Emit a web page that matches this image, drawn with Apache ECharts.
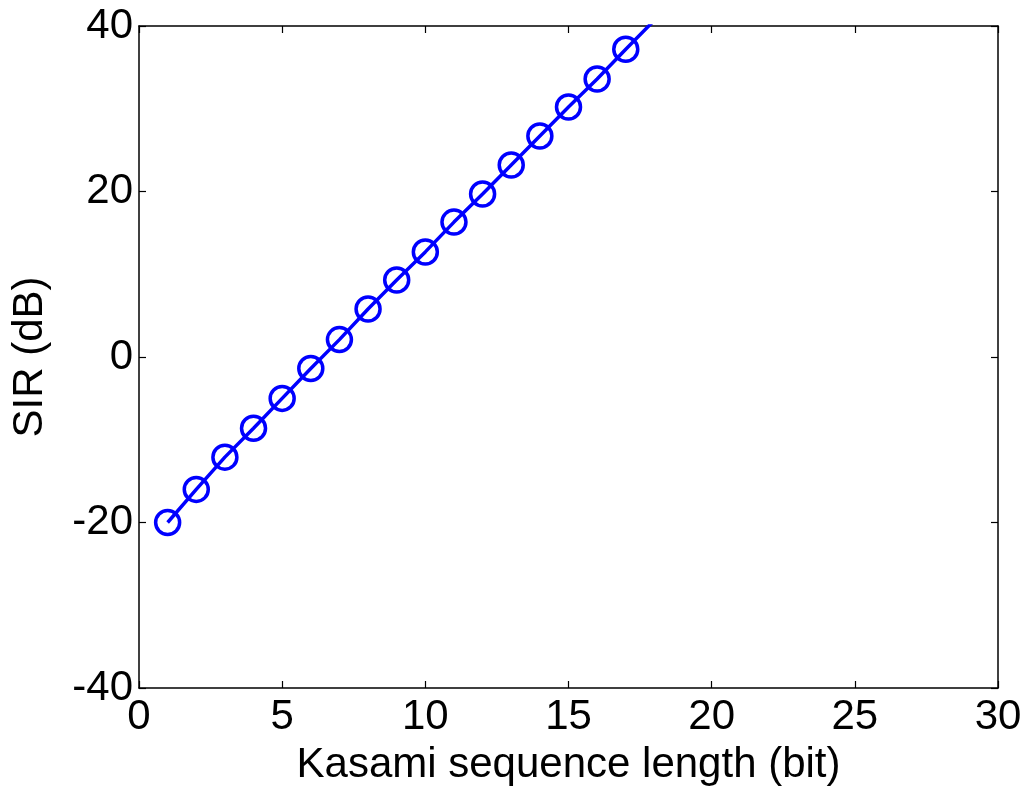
<!DOCTYPE html>
<html><head><meta charset="utf-8">
<script src="https://cdn.jsdelivr.net/npm/echarts@6/dist/echarts.min.js"></script>
<style>html,body{margin:0;padding:0;background:#fff}#c{width:1029px;height:794px}</style>
</head><body><div id="c"></div>
<script>
const xValues = [1,2,3,4,5,6,7,8,9,10,11,12,13,14,15,16,17,18];
const sirValues = [-20.0,-16.0,-12.1,-8.6,-5.0,-1.4,2.1,5.8,9.3,12.7,16.3,19.7,23.2,26.7,30.2,33.6,37.2,40.7];
const xTicks = [0,5,10,15,20,25,30];
const yTicks = [-40,-20,0,20,40];

const font = 'Liberation Sans, Arial, sans-serif';
const data = xValues.map((x,i)=> i===xValues.length-1 ? {value:[x,sirValues[i]], symbol:'none'} : [x,sirValues[i]]);

const chart = echarts.init(document.getElementById('c'));
const axBase = {
  axisLine:{show:true,onZero:false,lineStyle:{color:'#000',width:1.5}},
  axisTick:{show:true,inside:true,length:7,lineStyle:{color:'#000',width:1.2}},
  splitLine:{show:false}
};
chart.setOption({
  animation:false,
  backgroundColor:'#fff',
  grid:{left:139,right:31,top:26,bottom:106,containLabel:false,outerBoundsMode:'none'},
  xAxis:[
    Object.assign({type:'value',position:'bottom',min:0,max:30,interval:5,
      name:'Kasami sequence length (bit)',nameLocation:'middle',nameGap:56,nameMoveOverlap:false,
      nameTextStyle:{fontFamily:font,fontSize:42,color:'#000'},
      axisLabel:{fontFamily:font,fontSize:42,color:'#000',margin:8,
        formatter:v=>xTicks.includes(v)?String(v):''}},axBase),
    Object.assign({type:'value',position:'top',min:0,max:30,interval:5,axisLabel:{show:false}},axBase)
  ],
  yAxis:[
    Object.assign({type:'value',position:'left',min:-40,max:40,interval:20,
      name:'SIR (dB)',nameLocation:'middle',nameGap:88,nameMoveOverlap:false,
      nameTextStyle:{fontFamily:font,fontSize:42,color:'#000'},
      axisLabel:{fontFamily:font,fontSize:42,color:'#000',margin:6,
        formatter:v=>yTicks.includes(v)?String(v):''}},axBase),
    Object.assign({type:'value',position:'right',min:-40,max:40,interval:20,axisLabel:{show:false}},axBase)
  ],
  series:[{
    type:'line',xAxisIndex:0,yAxisIndex:0,data:data,clip:true,
    symbol:'circle',symbolSize:24,showAllSymbol:true,
    lineStyle:{color:'#0000ff',width:3.5},
    itemStyle:{color:'rgba(0,0,0,0)',borderColor:'#0000ff',borderWidth:3.5}
  }]
});
</script></body></html>
